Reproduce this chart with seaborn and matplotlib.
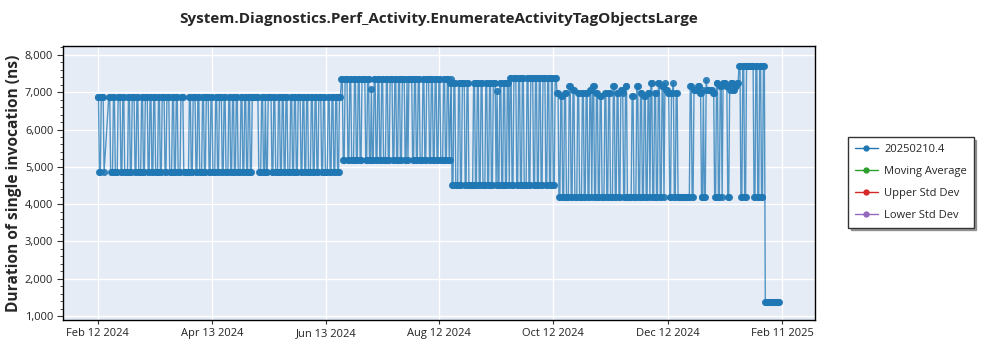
import pandas as pd
import matplotlib
matplotlib.use("Agg")
import matplotlib.pyplot as plt
import matplotlib.dates as mdates
from matplotlib.lines import Line2D
from matplotlib.ticker import FuncFormatter, MultipleLocator, FixedLocator
import seaborn as sns

TITLE = "System.Diagnostics.Perf_Activity.EnumerateActivityTagObjectsLarge"
Y_LABEL = "Duration of single invocation (ns)"
LEGEND_LABELS = ["20250210.4", "Moving Average", "Upper Std Dev", "Lower Std Dev"]
LEGEND_COLORS = ["#1f77b4", "#2ca02c", "#d62728", "#9467bd"]
X_TICKS = ["2024-02-12", "2024-04-13", "2024-06-13", "2024-08-12",
           "2024-10-12", "2024-12-12", "2025-02-11"]
Y_TICKS = [1000, 2000, 3000, 4000, 5000, 6000, 7000, 8000]

# Results every 12 hours, one character per result starting at the given
# date ('.' = no result); each character maps to a duration in ns.
run1_start = "2024-02-12"
run1_codes = ("HHLLHHHL.. ..HHLLLHHL LLHHHLLHHL LLLHHLLHHH LLHHLLLHHL "
              "LHHHLLHHLL HHLLLHHLLH HHLLHHHLLL HHLLHHLLLH HHLLLLLLHH "
              "LLHHHLLHHL LLHHLLHHHL LHHLLLHHLL HHHLLHHLLL HHLLHHLLHH "
              "LLLHHLLHHL LHHLLHHHHH HHLLLHHLLH LLHHHHLLHH LLLHHLLHHL "
              "LHHLLLHHLL HHLLHHHLLH HLLHHLLLHH LLHHLLHHHL LHHLLLHHLL "
              "HHLLHHLLHH")
run1_levels = {"H": 6870, "L": 4860}

run2_start = "2024-06-21"
run2_codes = ("CCDDCCCDDC CDDDCCDDCC DDCCCCDDCC DDXDDCCDDC CDDCCDDDCC "
              "DDCCCDDCCD DCCDDCCCDD CDCCCCDDCC DDCCDDDCCD DCCCDDCCDD "
              "CCDDCCDDDC CDDCCDDC")
run2_levels = {"C": 7345, "D": 5190, "X": 7080}

run3_start = "2024-08-18"
run3_codes = ("EEFFEEFFFE EFFEEEFFEE FFFFFEEFFE EFFEEFFFEE FFEEFFEEEF "
              "YFFEEFFEEF FEEF"
              "GGFFGGGFFG GFFGGFFFGG FFGGGFFGGF FGGFFGGGFF GGFFGGFFGG")
run3_levels = {"E": 7240, "F": 4515, "Y": 7020, "G": 7395}

run4_start = "2024-10-14"
run4_codes = ("22LL11LL22 LLL44LL33L LL22LLL22L L22LL33L44 LL22LL11LL "
              "L22LL22LLL 44LL22LL33 2LL44LLLLL 11LLL44LL2 2LL11LL22L "
              "55LL22LL55 LL44L53322 LL225LL22L LLLLLLLLLL LL44LL3333 "
              "4422LL3LL6 33333322LL 55LL44L555 44LL355533 4455"
              "KKLLKKLL KKKKKKKK LLKKLLKKLLKK "
              "MMMMMMMMMMMMMMMM")
run4_levels = {"L": 4180, "1": 6900, "2": 6980, "3": 7060, "4": 7160,
               "5": 7240, "6": 7330, "K": 7710, "M": 1385}

runs = [(run1_start, run1_codes, run1_levels),
        (run2_start, run2_codes, run2_levels),
        (run3_start, run3_codes, run3_levels),
        (run4_start, run4_codes, run4_levels)]

dates, values = [], []
for start, codes, levels in runs:
    t = pd.Timestamp(start)
    for ch in codes.replace(" ", ""):
        if ch != ".":
            dates.append(t)
            values.append(levels[ch])
        t += pd.Timedelta(hours=12)

df = pd.DataFrame({"date": dates, "duration": values})

sns.set_style("white")
plt.rcParams["font.family"] = ["Open Sans", "DejaVu Sans"]

fig = plt.figure(figsize=(10, 3.5), dpi=100)
ax = fig.add_axes([0.063, 0.0857, 0.752, 0.783])
ax.set_facecolor("#e5ecf6")

blue = LEGEND_COLORS[0]
sns.lineplot(data=df, x="date", y="duration", ax=ax, color=blue,
             linewidth=1.0, alpha=0.75, sort=False, legend=False)
sns.scatterplot(data=df, x="date", y="duration", ax=ax, color=blue,
                s=26, linewidth=0, alpha=0.9, legend=False, zorder=3)

ax.set_xlim(pd.Timestamp("2024-02-12") - pd.Timedelta(days=18.4),
            pd.Timestamp("2025-02-11") + pd.Timedelta(days=17.5))
ax.set_ylim(893, 8241)

ax.xaxis.set_major_locator(FixedLocator(mdates.date2num(pd.to_datetime(X_TICKS))))
ax.xaxis.set_major_formatter(mdates.DateFormatter("%b %d %Y"))
ax.yaxis.set_major_locator(FixedLocator(Y_TICKS))
ax.yaxis.set_minor_locator(MultipleLocator(200))
ax.yaxis.set_major_formatter(FuncFormatter(lambda v, p: f"{int(v):,}"))

ax.grid(True, which="major", color="white", linewidth=1.0)
ax.set_axisbelow(True)
for s in ax.spines.values():
    s.set_color("black")
    s.set_linewidth(1.0)

ax.tick_params(axis="both", which="major", labelsize=8, colors="#333333",
               length=3, width=0.8, direction="out", pad=3)
ax.tick_params(axis="y", which="major", left=True, length=4)
ax.tick_params(axis="y", which="minor", left=True, length=2, width=0.6,
               color="#333333")
ax.tick_params(axis="x", which="major", bottom=True)
for lab in ax.get_xticklabels() + ax.get_yticklabels():
    lab.set_color("#222222")

ax.set_xlabel("")
ax.set_ylabel(Y_LABEL, fontsize=11.2, fontweight="bold")
ax.yaxis.set_label_coords(-0.054, 0.5)
fig.suptitle(TITLE, x=0.439, y=0.965, fontsize=11, fontweight="bold",
             va="top")

handles = [Line2D([], [], color=c, marker="o", markersize=3.5, linewidth=1.0)
           for c in LEGEND_COLORS]
leg = fig.legend(handles, LEGEND_LABELS, loc="upper left",
                 bbox_to_anchor=(0.848, 0.609), fontsize=8, frameon=True,
                 fancybox=False, shadow=True, borderaxespad=0,
                 handlelength=2.1, borderpad=0.6, labelspacing=1.0,
                 handletextpad=0.55)
leg.get_frame().set_edgecolor("#333333")
leg.get_frame().set_linewidth(1.0)

fig.savefig("out.png", dpi=100)
